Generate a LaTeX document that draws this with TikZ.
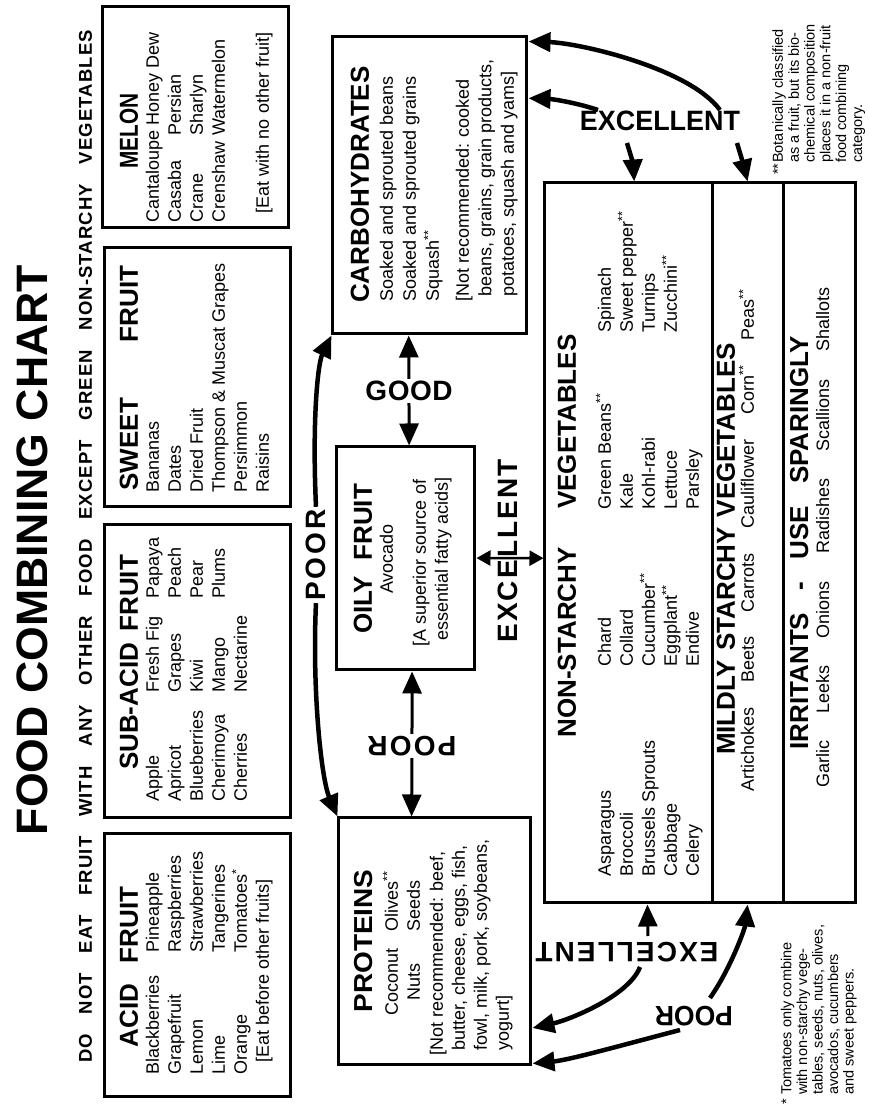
\documentclass[tikz,border=0pt]{standalone}
\usepackage{fontspec}
\usepackage{graphicx}
\setmainfont{Liberation Sans}
\usetikzlibrary{arrows.meta,calc}
\newcommand\spreadto[2]{\makebox[#1][s]{#2}}
\newcommand\fitto[2]{\resizebox{#1}{\height}{#2}}
\newcommand\fnm[1]{\textsuperscript{#1}}
\begin{document}
\begin{tikzpicture}[x=1pt,y=1pt,
  box/.style={draw, line width=3pt, inner sep=0pt},
  lst/.style={inner sep=0pt, anchor=base west, font=\fontsize{18}{22}\selectfont},
  lstc/.style={inner sep=0pt, anchor=base, font=\fontsize{18}{22}\selectfont},
  hdr/.style={inner sep=0pt, anchor=base, font=\bfseries\fontsize{26}{30}\selectfont},
  lab/.style={inner sep=2pt, font=\bfseries\fontsize{28}{30}\selectfont},
  fnt/.style={inner sep=0pt, anchor=base west, font=\fontsize{14.5}{15.5}\selectfont},
  arr/.style={line width=4.5pt, -{Triangle[length=22pt,width=19pt]}},
  sarr/.style={line width=3pt, -{Triangle[length=22pt,width=19pt]}},
  darr/.style={line width=2.5pt, {Triangle[length=14pt,width=15pt]}-{Triangle[length=14pt,width=15pt]}},
]
\fill[white] (-869,0) rectangle (0,1108);
\useasboundingbox (-869,0) rectangle (0,1108);
\begin{scope}[rotate=90, transform shape]
% ---------- title ----------
\node[inner sep=0pt, anchor=base, font=\bfseries\fontsize{44}{48}\selectfont] (title) at (558,821) {\fitto{570pt}{FOOD COMBINING CHART}};
\node[inner sep=0pt, anchor=base, font=\bfseries\fontsize{18.5}{22}\selectfont\addfontfeature{LetterSpace=6}] (subtitle) at (561.5,777) {\spreadto{1033pt}{DO NOT EAT FRUIT WITH ANY OTHER FOOD EXCEPT GREEN NON-STARCHY VEGETABLES}};
% ---------- boxes ----------
\node[box, minimum width=263pt, minimum height=186pt] (acid) at (142.5,671) {};
\node[box, minimum width=293pt, minimum height=186pt] (subacid) at (436.5,671) {};
\node[box, minimum width=259pt, minimum height=186pt] (sweet) at (730.5,671) {};
\node[box, minimum width=221pt, minimum height=186pt] (melon) at (990.5,673) {};
\node[box, minimum width=297pt, minimum height=194pt] (carbs) at (922.5,439) {};
\node[box, minimum width=223pt, minimum height=138pt] (oily) at (549.5,463) {};
\node[box, minimum width=247pt, minimum height=192pt] (proteins) at (166.5,434) {};
\node[box, minimum width=720pt, minimum height=311pt] (veg) at (565,168.5) {};
\draw[line width=3pt] ($(veg.south west)!0.463!(veg.north west)$) -- ($(veg.south east)!0.463!(veg.north east)$);
\draw[line width=3pt] ($(veg.south west)!0.235!(veg.north west)$) -- ($(veg.south east)!0.235!(veg.north east)$);
% ---------- acid fruit ----------
\node[hdr] (acidH) at (141,731) {\spreadto{161pt}{ACID FRUIT}};
\foreach \t [count=\i from 0] in {Blackberries,Grapefruit,Lemon,Lime,Orange}
  \node[lst] (acA\i) at (33,{710-22*\i}) {\t};
\foreach \t [count=\i from 0] in {Pineapple,Raspberries,Strawberries,Tangerines,Tomatoes\fnm{*}}
  \node[lst] (acB\i) at (155,{710-22*\i}) {\t};
\node[lst] (acE) at (45,600) {[Eat before other fruits]};
% ---------- sub-acid ----------
\node[hdr] (subH) at (445.5,731) {\spreadto{215pt}{SUB-ACID FRUIT}};
\foreach \t [count=\i from 0] in {Apple,Apricot,Blueberries,Cherimoya,Cherries}
  \node[lst] (saA\i) at (306,{710-22*\i}) {\t};
\foreach \t [count=\i from 0] in {Fresh Fig,Grapes,Kiwi,Mango,Nectarine}
  \node[lst] (saB\i) at (415,{710-22*\i}) {\t};
\foreach \t [count=\i from 0] in {Papaya,Peach,Pear,Plums}
  \node[lst] (saC\i) at (509,{710-22*\i}) {\t};
% ---------- sweet ----------
\node[hdr] (sweetH) at (730,731) {\spreadto{225pt}{SWEET FRUIT}};
\foreach \t [count=\i from 0] in {Bananas,Dates,Dried Fruit,Thompson \& Muscat Grapes,Persimmon,Raisins}
  \node[lst] (swA\i) at (615,{710-22*\i}) {\t};
% ---------- melon ----------
\node[hdr] (melonH) at (977,731) {\fitto{75pt}{MELON}};
\foreach \t [count=\i from 0] in {Cantaloupe Honey Dew,Casaba,Crane,Crenshaw}
  \node[lst] (meA\i) at (885,{710-22*\i}) {\t};
\foreach \t [count=\i from 1] in {Persian,Sharlyn,Watermelon}
  \node[lst] (meB\i) at (972,{710-22*\i}) {\t};
\node[lstc] (meE) at (985,600) {[Eat with no other fruit]};
% ---------- carbohydrates ----------
\node[hdr, anchor=base west] (carbsH) at (805,500) {CARBOHYDRATES};
\foreach \t [count=\i from 0] in {Soaked and sprouted beans,Soaked and sprouted grains,Squash\fnm{**}}
  \node[lst] (caA\i) at (806,{476-23*\i}) {\t};
\foreach \t [count=\i from 0] in {{[Not recommended: cooked},{\phantom{[}beans, grains, grain products,},{\phantom{[}potatoes, squash and yams]}}
  \node[lst] (caB\i) at (806,{400-22.5*\i}) {\t};
% ---------- oily fruit ----------
\node[hdr] (oilyH) at (549,497) {\spreadto{150pt}{OILY FRUIT}};
\node[lstc] (oilyA) at (549,476) {Avocado};
\node[lstc] (oilyB) at (545,443) {[A superior source of};
\node[lstc] (oilyC) at (549,421) {essential fatty acids]};
% ---------- proteins ----------
\node[hdr] (protH) at (167,496) {\fitto{143pt}{PROTEINS}};
\node[lstc] (prC) at (126,471) {Coconut};
\node[lst] (prO) at (176,471) {Olives\fnm{**}};
\node[lstc] (prN) at (126,449) {Nuts};
\node[lst] (prS) at (176,449) {Seeds};
\foreach \t [count=\i from 0] in {{[Not recommended: beef,},{\phantom{[}butter, cheese, eggs, fish,},{\phantom{[}fowl, milk, pork, soybeans,},{\phantom{[}yogurt]}}
  \node[lst] (prL\i) at (52,{426-22*\i}) {\t};
% ---------- vegetables ----------
\node[hdr] (nsH) at (572,293) {\spreadto{403pt}{NON-STARCHY VEGETABLES}};
\foreach \t [count=\i from 0] in {Asparagus,Broccoli,Brussels Sprouts,Cabbage,Celery}
  \node[lst] (vA\i) at (231,{258-22*\i}) {\t};
\foreach \t [count=\i from 0] in {Chard,Collard,Cucumber\fnm{**},Eggplant\fnm{**},Endive}
  \node[lst] (vB\i) at (441,{258-22*\i}) {\t};
\foreach \t [count=\i from 0] in {Green Beans\fnm{**},Kale,Kohl-rabi,Lettuce,Parsley}
  \node[lst] (vC\i) at (598,{258-22*\i}) {\t};
\foreach \t [count=\i from 0] in {Spinach,Sweet pepper\fnm{**},Turnips,Zucchini\fnm{**}}
  \node[lst] (vD\i) at (775,{258-22*\i}) {\t};
\node[hdr] (msH) at (559,134) {\spreadto{412pt}{MILDLY STARCHY VEGETABLES}};
\node[lst] (msL) at (316,115) {\spreadto{503pt}{Artichokes Beets Carrots Cauliflower Corn\fnm{**} Peas\fnm{**}}};
\node[hdr] (irH) at (565,61) {\spreadto{413pt}{IRRITANTS - USE SPARINGLY}};
\node[lst] (irL) at (320,40) {\spreadto{500pt}{Garlic Leeks Onions Radishes Scallions Shallots}};
% ---------- footnotes ----------
\node[fnt] (tomStar) at (3,77.5) {*};
\foreach \t [count=\i from 0] in {Tomatoes only combine,with non-starchy vege-,{tables, seeds, nuts, olives,},{avocados, cucumbers},and sweet peppers.}
  \node[fnt] (tom\i) at (13,{77.5-15.5*\i}) {\t};
\node[fnt] (botStar) at (933,86) {**};
\foreach \t [count=\i from 0] in {Botanically classified,{as a fruit, but its bio-},chemical composition,places it in a non-fruit,food combining,category.}
  \node[fnt] (bot\i) at (945,{86-15.8*\i}) {\t};
% ---------- labels ----------
\node[lab] (poorArc) at (553,553) {\spreadto{92pt}{P\hfill O\hfill O\hfill R}};
\node[lab, rotate=90] (poorPO) at (362,457) {\spreadto{89pt}{P\hfill O\hfill O\hfill R}};
\node[lab, rotate=-90] (good) at (717,460) {\spreadto{87pt}{G\hfill O\hfill O\hfill D}};
\node[lab] (excMid) at (557,361) {\spreadto{183pt}{E\hfill X\hfill C\hfill E\hfill L\hfill L\hfill E\hfill N\hfill T}};
\node[lab, rotate=-90] (excTop) at (987,209) {\fitto{160pt}{EXCELLENT}};
\node[lab, rotate=90] (excBot) at (156,242) {\spreadto{183pt}{E\hfill X\hfill C\hfill E\hfill L\hfill L\hfill E\hfill N\hfill T}};
\node[lab, rotate=90] (poorBot) at (92,175) {\fitto{78pt}{POOR}};
% ---------- free arrow ends ----------
\coordinate (tA) at (998,149);
\coordinate (tB) at (998,271);
\coordinate (tC) at (965,242);
\coordinate (tD) at (965,132);
\coordinate (bA) at (172,221);
\coordinate (bB) at (141,229);
\coordinate (bC) at (78,189);
\coordinate (bD) at (110,159);
% ---------- connectors ----------
\draw[arr] (poorArc.east) .. controls (690,557) and (745,551) .. (carbs.north west);
\draw[arr] (poorArc.west) .. controls (420,557) and (330,548) .. (proteins.north east);
\draw[sarr] (good.north) -- ($(carbs.south west)!0.608!(carbs.north west)$);
\draw[sarr] (good.south) -- ($(oily.south east)!0.478!(oily.north east)$);
\draw[sarr] (poorPO.north) -- ($(proteins.south east)!0.62!(proteins.north east)$);
\draw[sarr] (poorPO.south) -- ($(oily.south west)!0.457!(oily.north west)$);
\draw[darr] ($(oily.south west)!0.502!(oily.south east)$) -- ($(veg.north west)!0.479!(veg.north east)$);
\draw[arr] (tA) .. controls (1040,180) and (1065,290) .. ($(carbs.south west)!0.98!(carbs.south east)$);
\draw[arr] (tB) .. controls (1006,295) and (1009,318) .. ($(carbs.south west)!0.791!(carbs.south east)$);
\draw[arr] (tC) .. controls (945,236) .. ($(veg.south east)!0.711!(veg.north east)$);
\draw[arr] (tD) .. controls (945,126) .. ($(veg.south east)!0.35!(veg.north east)$);
\draw[sarr] (bA) -- ($(veg.south west)!0.669!(veg.north west)$);
\draw[arr] (bB) .. controls (112,240) and (88,300) .. ($(proteins.south west)!0.154!(proteins.south east)$);
\draw[arr] (bC) .. controls (62,250) and (48,300) .. ($(proteins.south west)!0.012!(proteins.south east)$);
\draw[arr] (bD) .. controls (140,138) and (180,124) .. ($(veg.south west)!0.35!(veg.north west)$);
\end{scope}
\end{tikzpicture}
\end{document}
